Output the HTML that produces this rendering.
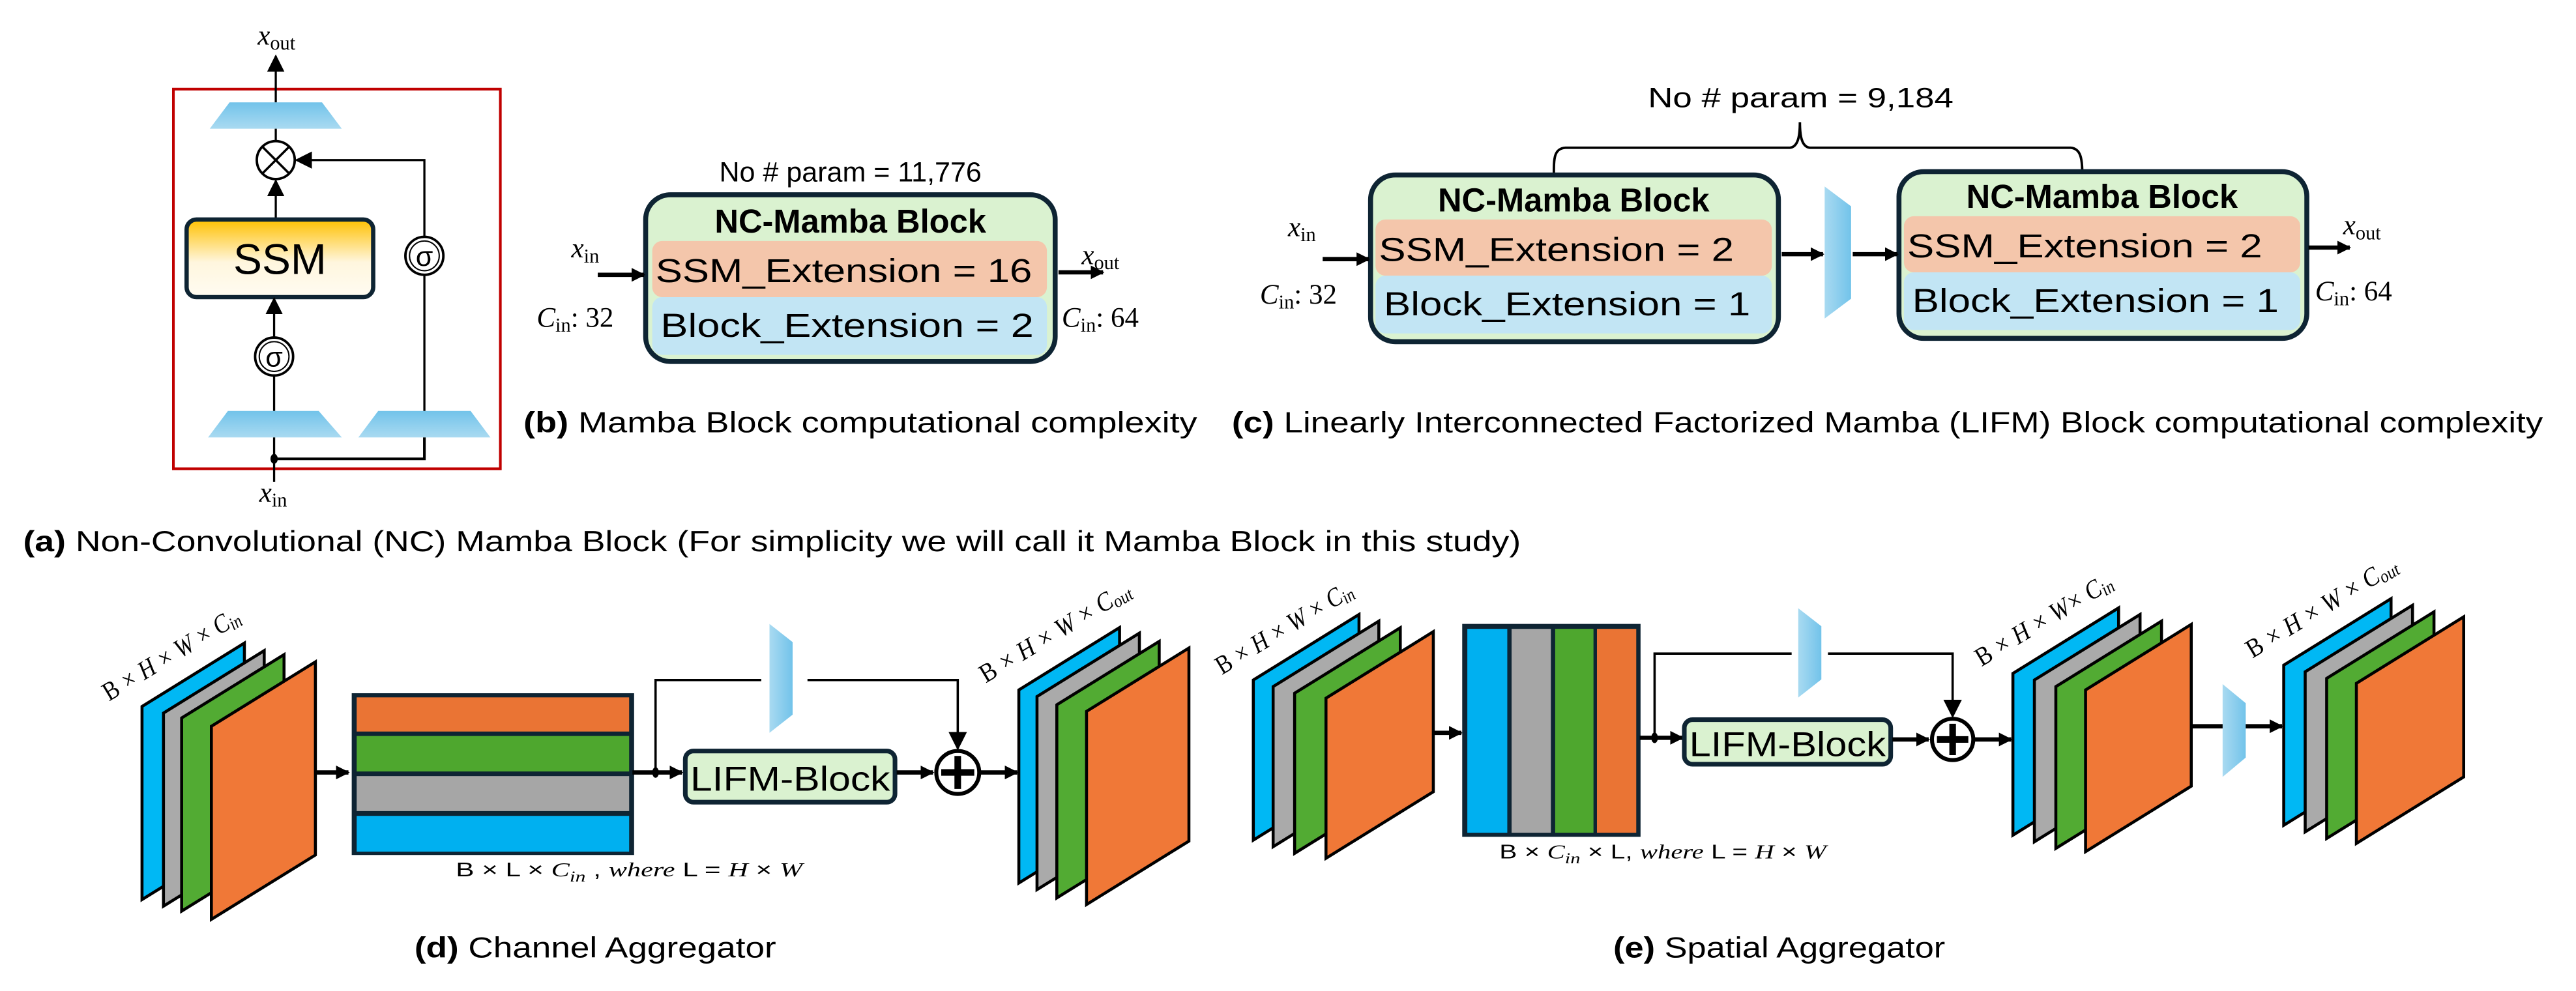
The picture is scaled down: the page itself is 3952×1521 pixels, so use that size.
<!DOCTYPE html>
<html><head><meta charset="utf-8"><style>
html,body{margin:0;padding:0;background:#fff;}
svg{display:block;}
text{font-family:"Liberation Sans",sans-serif;}
.m{font-family:"Liberation Serif",serif;font-style:italic;}
</style></head><body>
<svg width="3952" height="1521" viewBox="0 0 1560 600.4" xmlns="http://www.w3.org/2000/svg">
<defs>
<marker id="ah" viewBox="0 0 10 10" refX="9" refY="5" markerWidth="3.2" markerHeight="3.2" orient="auto"><path d="M0,0L10,5L0,10z"/></marker>
<marker id="as" viewBox="0 0 10 10" refX="9" refY="5" markerWidth="8" markerHeight="8" orient="auto"><path d="M0,0L10,5L0,10z"/></marker>
<linearGradient id="tz" x1="0" y1="0" x2="0" y2="1"><stop offset="0" stop-color="#72c3ea"/><stop offset="1" stop-color="#a9daf1"/></linearGradient>
<linearGradient id="tzh" x1="0" y1="0" x2="1" y2="0"><stop offset="0" stop-color="#a9daf1"/><stop offset="1" stop-color="#72c3ea"/></linearGradient>
<linearGradient id="ssm" x1="0" y1="0" x2="0" y2="1"><stop offset="0" stop-color="#ffc000"/><stop offset="0.55" stop-color="#fff6de"/><stop offset="1" stop-color="#fffcf2"/></linearGradient>
</defs>

<!-- (a) -->
<rect x="105" y="54" width="198" height="230" fill="none" stroke="#c00000" stroke-width="1.6"/>
<line x1="167" y1="62" x2="167" y2="34" stroke="#000" stroke-width="1.3" marker-end="url(#as)"/>
<text x="156" y="27" class="m" font-size="17">x<tspan font-size="12" dy="3" font-style="normal">out</tspan></text>
<polygon points="139,62 195,62 207,78 127,78" fill="url(#tz)"/>
<line x1="167" y1="78" x2="167" y2="85" stroke="#000" stroke-width="1.3"/>
<circle cx="167" cy="97" r="11.5" fill="#fff" stroke="#000" stroke-width="1.5"/>
<line x1="159" y1="89" x2="175" y2="105" stroke="#000" stroke-width="1.4"/>
<line x1="175" y1="89" x2="159" y2="105" stroke="#000" stroke-width="1.4"/>
<line x1="167" y1="133" x2="167" y2="109.5" stroke="#000" stroke-width="1.3" marker-end="url(#as)"/>
<rect x="113" y="133" width="113" height="47" rx="6" fill="url(#ssm)" stroke="#0e2433" stroke-width="2.6"/>
<text x="169.5" y="166" font-size="26" text-anchor="middle">SSM</text>
<line x1="166" y1="204" x2="166" y2="181" stroke="#000" stroke-width="1.3" marker-end="url(#as)"/>
<circle cx="166" cy="216" r="11.5" fill="#fff" stroke="#000" stroke-width="1.5"/>
<circle cx="166" cy="216" r="9" fill="none" stroke="#000" stroke-width="0.8"/>
<text x="166" y="222" font-size="17" text-anchor="middle">σ</text>
<line x1="166" y1="249" x2="166" y2="228" stroke="#000" stroke-width="1.3"/>
<polygon points="138,249 193,249 207,265 126,265" fill="url(#tz)"/>
<polygon points="229,249 285,249 297,265 217,265" fill="url(#tz)"/>
<line x1="257" y1="249" x2="257" y2="167" stroke="#000" stroke-width="1.3"/>
<circle cx="257" cy="155" r="11.5" fill="#fff" stroke="#000" stroke-width="1.5"/>
<circle cx="257" cy="155" r="9" fill="none" stroke="#000" stroke-width="0.8"/>
<text x="257" y="161" font-size="17" text-anchor="middle">σ</text>
<polyline points="257,143 257,97 179.5,97" fill="none" stroke="#000" stroke-width="1.3" marker-end="url(#as)"/>
<line x1="166" y1="292" x2="166" y2="265" stroke="#000" stroke-width="1.3"/>
<polyline points="166,278 257,278 257,265" fill="none" stroke="#000" stroke-width="1.6"/>
<ellipse cx="166" cy="278" rx="2.2" ry="3" fill="#000"/>
<text x="157" y="304" class="m" font-size="17">x<tspan font-size="12" dy="3" font-style="normal">in</tspan></text>
<text x="14" y="334" font-size="17.5" textLength="907" lengthAdjust="spacingAndGlyphs"><tspan font-weight="bold">(a)</tspan> Non-Convolutional  (NC) Mamba Block (For simplicity we will call it Mamba Block in this study)</text>

<!-- (b) -->
<text x="515" y="110" font-size="17" text-anchor="middle">No # param = 11,776</text>
<rect x="391" y="118" width="248" height="101" rx="15" fill="#daf2d0" stroke="#0e2433" stroke-width="3"/>
<text x="515" y="141" font-size="20" font-weight="bold" text-anchor="middle">NC-Mamba Block</text>
<rect x="395" y="146" width="239" height="34" rx="6" fill="#f4c6ab"/>
<text x="397" y="171" font-size="20" textLength="228" lengthAdjust="spacingAndGlyphs">SSM_Extension  =  16</text>
<rect x="395" y="180" width="239" height="35" rx="6" fill="#c2e5f4"/>
<text x="400" y="204" font-size="20" textLength="226" lengthAdjust="spacingAndGlyphs">Block_Extension  = 2</text>
<text x="346" y="156" class="m" font-size="17">x<tspan font-size="12" dy="3" font-style="normal">in</tspan></text>
<line x1="362" y1="166.5" x2="390" y2="166.5" stroke="#000" stroke-width="2.6" marker-end="url(#ah)"/>
<text x="325" y="198" class="m" font-size="17">C<tspan font-size="12" dy="3" font-style="normal">in</tspan><tspan dy="-3" font-style="normal">: 32</tspan></text>
<text x="655" y="160" class="m" font-size="17">x<tspan font-size="12" dy="3" font-style="normal">out</tspan></text>
<line x1="641" y1="165" x2="668" y2="165" stroke="#000" stroke-width="2.6" marker-end="url(#ah)"/>
<text x="643" y="198" class="m" font-size="17">C<tspan font-size="12" dy="3" font-style="normal">in</tspan><tspan dy="-3" font-style="normal">: 64</tspan></text>
<text x="317" y="262" font-size="17.5" textLength="408" lengthAdjust="spacingAndGlyphs"><tspan font-weight="bold">(b)</tspan> Mamba Block computational complexity</text>

<!-- (c) -->
<text x="998" y="65" font-size="17" textLength="185" lengthAdjust="spacingAndGlyphs">No # param =  9,184</text>
<path d="M941,106 C941,96 941,90 948,89.5 L1084,89.5 C1089,89 1090,82 1090,74 C1090,82 1091,89 1096,89.5 L1254,89.5 C1260,90 1261,96 1261,105" fill="none" stroke="#000" stroke-width="1.5"/>
<rect x="830" y="106" width="247" height="101" rx="15" fill="#daf2d0" stroke="#0e2433" stroke-width="3"/>
<text x="953" y="128" font-size="20" font-weight="bold" text-anchor="middle">NC-Mamba Block</text>
<rect x="833" y="133" width="240" height="34" rx="6" fill="#f4c6ab"/>
<text x="835" y="158" font-size="20" textLength="215" lengthAdjust="spacingAndGlyphs">SSM_Extension  =  2</text>
<rect x="833" y="167" width="240" height="35" rx="6" fill="#c2e5f4"/>
<text x="838" y="191" font-size="20" textLength="222" lengthAdjust="spacingAndGlyphs">Block_Extension  = 1</text>
<rect x="1150" y="104" width="247" height="101" rx="15" fill="#daf2d0" stroke="#0e2433" stroke-width="3"/>
<text x="1273" y="126" font-size="20" font-weight="bold" text-anchor="middle">NC-Mamba Block</text>
<rect x="1153" y="131" width="240" height="34" rx="6" fill="#f4c6ab"/>
<text x="1155" y="156" font-size="20" textLength="215" lengthAdjust="spacingAndGlyphs">SSM_Extension  =  2</text>
<rect x="1153" y="165" width="240" height="35" rx="6" fill="#c2e5f4"/>
<text x="1158" y="189" font-size="20" textLength="222" lengthAdjust="spacingAndGlyphs">Block_Extension  = 1</text>
<polygon points="1105,113 1121,125 1121,181 1105,193" fill="url(#tzh)"/>
<text x="780" y="143" class="m" font-size="17">x<tspan font-size="12" dy="3" font-style="normal">in</tspan></text>
<line x1="801" y1="157" x2="829" y2="157" stroke="#000" stroke-width="2.6" marker-end="url(#ah)"/>
<text x="763" y="184" class="m" font-size="17">C<tspan font-size="12" dy="3" font-style="normal">in</tspan><tspan dy="-3" font-style="normal">: 32</tspan></text>
<line x1="1079" y1="154" x2="1104" y2="154" stroke="#000" stroke-width="2.6" marker-end="url(#ah)"/>
<line x1="1122" y1="154" x2="1149" y2="154" stroke="#000" stroke-width="2.6" marker-end="url(#ah)"/>
<text x="1419" y="142" class="m" font-size="17">x<tspan font-size="12" dy="3" font-style="normal">out</tspan></text>
<line x1="1398" y1="150" x2="1423" y2="150" stroke="#000" stroke-width="2.6" marker-end="url(#ah)"/>
<text x="1402" y="182" class="m" font-size="17">C<tspan font-size="12" dy="3" font-style="normal">in</tspan><tspan dy="-3" font-style="normal">: 64</tspan></text>
<text x="746" y="262" font-size="17.5" textLength="794" lengthAdjust="spacingAndGlyphs"><tspan font-weight="bold">(c)</tspan> Linearly Interconnected Factorized Mamba (LIFM) Block computational complexity</text>

<!-- (d) -->
<g stroke="#000" stroke-width="1.8" stroke-linejoin="miter">
<polygon points="86,428 148,389.6 148,506.6 86,545" fill="#00b8f4"/>
<polygon points="99,432 160,394.2 160,511.2 99,549" fill="#aaaaaa"/>
<polygon points="110,435 172,396.6 172,513.6 110,552" fill="#52ab33"/>
<polygon points="128,440 191,401 191,518 128,557" fill="#f07837"/>
<polygon points="617,418 678,380.2 678,497.2 617,535" fill="#00b8f4"/>
<polygon points="628,422 690,383.6 690,500.6 628,539" fill="#aaaaaa"/>
<polygon points="640,427 702,388.6 702,505.6 640,544" fill="#52ab33"/>
<polygon points="658,431 720,392.6 720,509.6 658,548" fill="#f07837"/>
</g>
<text class="m" font-size="16" transform="translate(66,425) rotate(-31)" textLength="94" lengthAdjust="spacingAndGlyphs"><tspan font-style="normal">B</tspan> × H × W × C<tspan font-size="11" dy="2">in</tspan></text>
<text class="m" font-size="16" transform="translate(597,414) rotate(-31)" textLength="104" lengthAdjust="spacingAndGlyphs"><tspan font-style="normal">B</tspan> × H × W × C<tspan font-size="11" dy="2">out</tspan></text>
<line x1="191" y1="468" x2="211" y2="468" stroke="#000" stroke-width="2.6" marker-end="url(#ah)"/>
<rect x="214.5" y="421.5" width="168" height="95" fill="#0e2433" stroke="#0e2433" stroke-width="3"/>
<rect x="216" y="422.5" width="165" height="20.7" fill="#ea7434"/>
<rect x="216" y="445.9" width="165" height="21.5" fill="#4ea72e"/>
<rect x="216" y="470.2" width="165" height="21.2" fill="#a6a6a6"/>
<rect x="216" y="494.3" width="165" height="21.7" fill="#00b0f0"/>
<text x="276" y="531" font-size="12" textLength="210" lengthAdjust="spacingAndGlyphs">B × L × <tspan class="m">C</tspan><tspan class="m" font-size="9" dy="3">in</tspan><tspan dy="-3">  ,     </tspan><tspan class="m">where</tspan> L = <tspan class="m">H</tspan> × <tspan class="m">W</tspan></text>
<line x1="383" y1="468" x2="413" y2="468" stroke="#000" stroke-width="2.6" marker-end="url(#ah)"/>
<ellipse cx="397" cy="468" rx="2" ry="3.2" fill="#000"/>
<polyline points="397,468 397,412 580,412 580,453.5" fill="none" stroke="#000" stroke-width="1.4" marker-end="url(#as)"/>
<rect x="461" y="375" width="28" height="72" fill="#fff"/>
<polygon points="466,378 480,389 480,433 466,444" fill="url(#tzh)"/>
<rect x="415" y="455" width="127" height="31" rx="5" fill="#daf2d0" stroke="#0e2433" stroke-width="2.8"/>
<text x="478.5" y="479" font-size="21" text-anchor="middle" textLength="121" lengthAdjust="spacingAndGlyphs">LIFM-Block</text>
<line x1="543" y1="468" x2="565" y2="468" stroke="#000" stroke-width="2.6" marker-end="url(#ah)"/>
<circle cx="580" cy="468" r="13" fill="#fff" stroke="#000" stroke-width="2.4"/>
<line x1="580" y1="458" x2="580" y2="478" stroke="#000" stroke-width="4"/>
<line x1="570" y1="468" x2="590" y2="468" stroke="#000" stroke-width="4"/>
<line x1="594" y1="468" x2="616" y2="468" stroke="#000" stroke-width="2.6" marker-end="url(#ah)"/>
<text x="251" y="580" font-size="17.5" textLength="219" lengthAdjust="spacingAndGlyphs"><tspan font-weight="bold">(d)</tspan>  Channel Aggregator</text>

<!-- (e) -->
<g stroke="#000" stroke-width="1.8">
<polygon points="759,412 823,372.3 823,469.3 759,509" fill="#00b8f4"/>
<polygon points="771,416 835,376.3 835,473.3 771,513" fill="#aaaaaa"/>
<polygon points="784,420 848,380.3 848,477.3 784,517" fill="#52ab33"/>
<polygon points="803,423 868,382.7 868,479.7 803,520" fill="#f07837"/>
<polygon points="1219,408 1283,368.3 1283,466.3 1219,506" fill="#00b8f4"/>
<polygon points="1232,412 1296,372.3 1296,470.3 1232,510" fill="#aaaaaa"/>
<polygon points="1245,416 1309,376.3 1309,474.3 1245,514" fill="#52ab33"/>
<polygon points="1263,418 1327,378.3 1327,476.3 1263,516" fill="#f07837"/>
<polygon points="1383,403 1448,362.7 1448,459.7 1383,500" fill="#00b8f4"/>
<polygon points="1396,407 1461,366.7 1461,463.7 1396,504" fill="#aaaaaa"/>
<polygon points="1409,411 1474,370.7 1474,467.7 1409,508" fill="#52ab33"/>
<polygon points="1427,414 1492,373.7 1492,470.7 1427,511" fill="#f07837"/>
</g>
<text class="m" font-size="16" transform="translate(740,409) rotate(-31)" textLength="94" lengthAdjust="spacingAndGlyphs"><tspan font-style="normal">B</tspan> × H × W × C<tspan font-size="11" dy="2">in</tspan></text>
<text class="m" font-size="16" transform="translate(1200,404) rotate(-31)" textLength="94" lengthAdjust="spacingAndGlyphs"><tspan font-style="normal">B</tspan> × H × W× C<tspan font-size="11" dy="2">in</tspan></text>
<text class="m" font-size="16" transform="translate(1364,399) rotate(-31)" textLength="104" lengthAdjust="spacingAndGlyphs"><tspan font-style="normal">B</tspan> × H × W × C<tspan font-size="11" dy="2">out</tspan></text>
<line x1="868" y1="444" x2="885" y2="444" stroke="#000" stroke-width="2.6" marker-end="url(#ah)"/>
<rect x="887" y="379.5" width="105" height="126" fill="#0e2433" stroke="#0e2433" stroke-width="3"/>
<rect x="888.6" y="381" width="24.2" height="123.5" fill="#00b0f0"/>
<rect x="915.4" y="381" width="23.8" height="123.5" fill="#a6a6a6"/>
<rect x="941.8" y="381" width="23.2" height="123.5" fill="#4ea72e"/>
<rect x="967.1" y="381" width="23.8" height="123.5" fill="#ea7434"/>
<text x="908" y="520" font-size="12" textLength="198" lengthAdjust="spacingAndGlyphs">B × <tspan class="m">C</tspan><tspan class="m" font-size="9" dy="3">in</tspan><tspan dy="-3"> × L,     </tspan><tspan class="m">where</tspan> L = <tspan class="m">H</tspan> × <tspan class="m">W</tspan></text>
<line x1="993" y1="447" x2="1019" y2="447" stroke="#000" stroke-width="2.6" marker-end="url(#ah)"/>
<ellipse cx="1002" cy="447" rx="2" ry="3.2" fill="#000"/>
<polyline points="1002,447 1002,396 1182.5,396 1182.5,434" fill="none" stroke="#000" stroke-width="1.4" marker-end="url(#as)"/>
<rect x="1085" y="366" width="22" height="60" fill="#fff"/>
<polygon points="1089,368.5 1103,379.4 1103,411.6 1089,422.6" fill="url(#tzh)"/>
<rect x="1020" y="436" width="125" height="27" rx="5" fill="#daf2d0" stroke="#0e2433" stroke-width="2.8"/>
<text x="1082.5" y="458" font-size="21" text-anchor="middle" textLength="119" lengthAdjust="spacingAndGlyphs">LIFM-Block</text>
<line x1="1146" y1="448" x2="1168" y2="448" stroke="#000" stroke-width="2.6" marker-end="url(#ah)"/>
<circle cx="1182.5" cy="448" r="12.5" fill="#fff" stroke="#000" stroke-width="2.4"/>
<line x1="1182.5" y1="438.5" x2="1182.5" y2="457.5" stroke="#000" stroke-width="4"/>
<line x1="1173" y1="448" x2="1192" y2="448" stroke="#000" stroke-width="4"/>
<line x1="1196" y1="448" x2="1218" y2="448" stroke="#000" stroke-width="2.6" marker-end="url(#ah)"/>
<line x1="1327" y1="440" x2="1382" y2="440" stroke="#000" stroke-width="2.6" marker-end="url(#ah)"/>
<polygon points="1346,414.5 1360,426 1360,459 1346,470.7" fill="url(#tzh)"/>
<text x="977" y="580" font-size="17.5" textLength="201" lengthAdjust="spacingAndGlyphs"><tspan font-weight="bold">(e)</tspan> Spatial Aggregator</text>
</svg>
</body></html>
